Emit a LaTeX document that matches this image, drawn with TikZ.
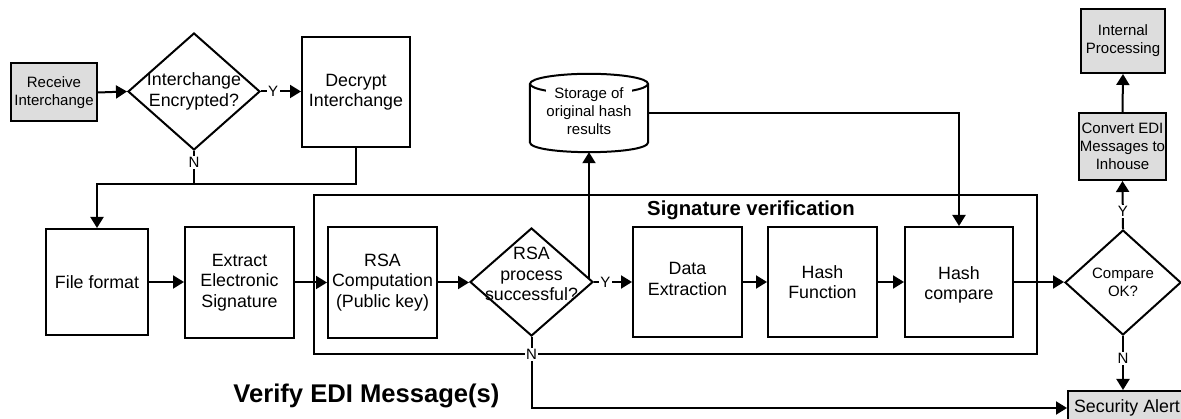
\documentclass[tikz,border=0pt]{standalone}
\usepackage{fontspec}
\setmainfont{Liberation Sans}
\usetikzlibrary{arrows.meta,shapes.geometric,calc}
\definecolor{grayfill}{RGB}{221,221,221}
\newcommand\mybig{\fontsize{17.8}{20.5}\selectfont}
\newcommand\mysmall{\fontsize{15}{18}\selectfont}
\newcommand\mylab{\fontsize{15}{16}\selectfont}
\newcommand\mytitle{\fontsize{20.3}{22}\selectfont\bfseries}
\newcommand\myhead{\fontsize{25.6}{28}\selectfont\bfseries}
\tikzset{
  box/.style={draw, line width=2pt, inner sep=0pt, align=center, font=\mybig},
  gbox/.style={box, fill=grayfill, font=\mysmall},
  dia/.style={draw, diamond, line width=2pt, inner sep=0pt},
  ln/.style={line width=2pt},
  arr/.style={line width=2pt, -{Triangle[length=11pt,width=13pt]}},
  lab/.style={fill=white, inner sep=1.5pt, font=\mylab},
  txt/.style={align=center, inner sep=0pt, font=\mybig},
}
\begin{document}
\begin{tikzpicture}[x=1pt,y=-1pt]
\useasboundingbox (0,0) rectangle (1181,419);
% frame
\draw[ln] (314,195) rectangle (1037,354);
\node[font=\mytitle, inner sep=0pt] (sigtitle) at (751,210) {Signature verification};
\node[font=\myhead, inner sep=0pt] (head) at (366.5,396) {Verify EDI Message(s)};
% nodes
\node[gbox, minimum width=86pt, minimum height=58pt] (recv) at (54,92.5) {Receive\\Interchange};
\node[dia, minimum width=132pt, minimum height=117pt] (d1) at (194,91.5) {};
\node[txt] (d1t) at (d1) {Interchange\\Encrypted?};
\node[box, minimum width=108pt, minimum height=110pt] (decrypt) at (356,92) {Decrypt\\Interchange};
\node[box, minimum width=102pt, minimum height=106pt] (file) at (97,282) {File format};
\node[box, minimum width=109pt, minimum height=111pt] (extract) at (239.5,282.5) {Extract\\Electronic\\Signature};
\node[box, minimum width=109pt, minimum height=111pt] (rsa) at (382.5,282.5) {RSA\\Computation\\(Public key)};
\node[dia, minimum width=123pt, minimum height=108pt] (d2) at (531.5,282) {};
\node[txt] (d2t) at (531.5,274) {RSA\\process\\successful?};
\node[box, minimum width=109pt, minimum height=110pt] (data) at (687.5,282) {};
\node[txt] (datat) at (687.5,279) {Data\\Extraction};
\node[box, minimum width=109pt, minimum height=110pt] (hashf) at (822.5,282) {Hash\\Function};
\node[box, minimum width=108pt, minimum height=110pt] (hashc) at (959,282) {};
\node[txt] (hashct) at (959,285) {Hash\\compare};
\node[dia, minimum width=116pt, minimum height=105pt] (d3) at (1123,282.5) {};
\node[txt, font=\mysmall] (d3t) at (d3) {Compare\\OK?};
\node[gbox, minimum width=87pt, minimum height=67pt] (convert) at (1122.5,146.5) {Convert EDI\\Messages to\\Inhouse};
\node[gbox, minimum width=84pt, minimum height=64pt] (internal) at (1123,41) {Internal\\Processing};
\node[gbox, font=\mybig, minimum width=118pt, minimum height=34pt] (alert) at (1127,408) {Security Alert};
% storage cylinder
\node[minimum width=118pt, minimum height=78pt, inner sep=0pt] (store) at (589,113) {};
\draw[ln] ([yshift=-10pt]store.north) ellipse [x radius=59pt, y radius=10pt];
\draw[ln] ([yshift=-10pt]store.north west) -- ([yshift=10pt]store.south west)
  .. controls ([yshift=-3.3pt]store.south west) and ([yshift=-3.3pt]store.south east) .. ([yshift=10pt]store.south east)
  -- ([yshift=-10pt]store.north east);
\node[txt, font=\mysmall, fill=white] (storet) at (589,111) {Storage of\\original hash\\results};
% connectors
\draw[arr] (recv.east) -- (d1.west);
\draw[arr] (d1.east) -- node[lab, pos=0.3] {Y} (decrypt.west |- d1.east);
\draw[ln] (d1.south) -- node[lab, pos=0.35] {N} ++(0,33) coordinate (j);
\draw[arr] (decrypt.south) |- (file.north |- j) -- (file.north);
\draw[arr] (file.east) -- (extract.west |- file.east);
\draw[arr] (extract.east) -- (rsa.west);
\draw[arr] (rsa.east) -- (d2.west |- rsa.east);
\draw[arr] (d2.east) -- node[lab, pos=0.3] {Y} (data.west |- d2.east);
\coordinate (d2up) at ($(d2.east)!0.08!(d2.north)$);
\draw[arr] (d2up) -- (d2up |- store.south);
\draw[arr] (data.east) -- (hashf.west);
\draw[arr] (hashf.east) -- (hashc.west);
\draw[arr] (store.east) -| (hashc.north);
\draw[arr] (hashc.east) -- (d3.west |- hashc.east);
\draw[arr] (d3.north) -- node[lab, pos=0.36] {Y} (convert.south);
\draw[arr] (convert.north) -- (internal.south);
\draw[arr] (d3.south) -- node[lab, pos=0.42] {N} (alert.north -| d3.south);
\draw[arr] (d2.south) -- node[lab, pos=0.25] {N} (d2.south |- alert.west) -- (alert.west);
\end{tikzpicture}
\end{document}
